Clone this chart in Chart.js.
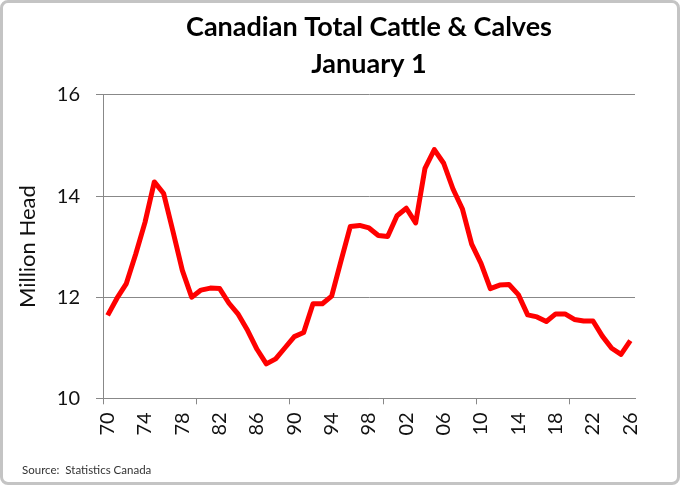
<!DOCTYPE html>
<html>
<head>
<meta charset="utf-8">
<script src="https://cdn.jsdelivr.net/npm/chart.js@4"></script>
<style>
  body { margin: 0; background: #fff; }
  #wrap { position: relative; width: 680px; height: 485px; }
  #frame {
    position: absolute; left: 0; top: 0; right: 0; bottom: 0;
    border: 3px solid #c4c4c4; border-radius: 8px; pointer-events: none;
  }
</style>
</head>
<body>
<div id="wrap">
  <canvas id="canva" width="680" height="485"></canvas>
  <div id="frame"></div>
</div>
<script>
const years = [
  "1970","1971","1972","1973","1974","1975","1976","1977","1978","1979",
  "1980","1981","1982","1983","1984","1985","1986","1987","1988","1989",
  "1990","1991","1992","1993","1994","1995","1996","1997","1998","1999",
  "2000","2001","2002","2003","2004","2005","2006","2007","2008","2009",
  "2010","2011","2012","2013","2014","2015","2016","2017","2018","2019",
  "2020","2021","2022","2023","2024","2025","2026"
];
const cattle = [
  11.64, 11.98, 12.27, 12.85, 13.48, 14.28, 14.05, 13.30, 12.53, 12.00,
  12.14, 12.18, 12.17, 11.88, 11.66, 11.34, 10.97, 10.68, 10.78, 11.00,
  11.22, 11.30, 11.87, 11.87, 12.02, 12.72, 13.40, 13.42, 13.37, 13.22,
  13.20, 13.61, 13.76, 13.47, 14.55, 14.92, 14.65, 14.14, 13.75, 13.05,
  12.67, 12.17, 12.24, 12.25, 12.05, 11.65, 11.61, 11.52, 11.67, 11.67,
  11.56, 11.53, 11.53, 11.23, 10.99, 10.87, 11.14
];
const tickLabels = ["70","74","78","82","86","90","94","98","02","06","10","14","18","22","26"];

const gridColor = "#888888";

// source note in the bottom left corner
const sourceNote = {
  id: "sourceNote",
  afterDraw(chart) {
    const c = chart.ctx;
    c.save();
    c.font = "11.5px Lato";
    c.fillStyle = "#333";
    c.textBaseline = "middle";
    c.fillText("Source:  Statistics Canada", 22, 470);
    c.restore();
  }
};

const ctx = document.getElementById("canva");
new Chart(ctx, {
  type: "line",
  data: {
    labels: years,
    datasets: [
      {
        data: cattle,
        borderColor: "#ff0000",
        borderWidth: 5,
        borderJoinStyle: "round",
        pointRadius: 0,
        tension: 0,
        fill: false,
      },
    ],
  },
  options: {
    responsive: false,
    animation: false,
    layout: {
      padding: { top: 0, left: 10, right: 45, bottom: 40 },
    },
    scales: {
      x: {
        offset: true,
        afterFit: (scale) => { scale.height = 46.7; },
        grid: {
          offset: true,
          drawOnChartArea: false,
          tickLength: 6,
          color: (c) => (c.index % 10 === 0 ? gridColor : "rgba(0,0,0,0)"),
        },
        border: { color: gridColor },
        ticks: {
          autoSkip: false,
          minRotation: 90,
          maxRotation: 90,
          padding: 8,
          color: "#111",
          font: { family: "Lato", size: 20 },
          callback: (v, i) => (i % 4 === 0 ? tickLabels[i / 4] : ""),
        },
      },
      y: {
        min: 10,
        max: 16,
        afterFit: (scale) => { scale.width = 93; },
        grid: { color: gridColor, tickLength: 7 },
        border: { color: gridColor },
        ticks: {
          stepSize: 2,
          padding: 16,
          color: "#111",
          font: { family: "Lato", size: 20 },
        },
        title: {
          display: true,
          text: "Million Head",
          color: "#111",
          font: { family: "Lato", size: 22 },
          padding: { top: 5, bottom: 10 },
        },
      },
    },
    plugins: {
      legend: { display: false },
      tooltip: { enabled: false },
      title: {
        display: true,
        fullSize: false,
        text: ["Canadian Total Cattle & Calves", "January 1"],
        color: "#000",
        font: { family: "Lato", size: 27, weight: "bold", lineHeight: 1.37 },
        padding: { top: 9, bottom: 12 },
      },
    },
  },
  plugins: [sourceNote],
});
</script>
</body>
</html>
